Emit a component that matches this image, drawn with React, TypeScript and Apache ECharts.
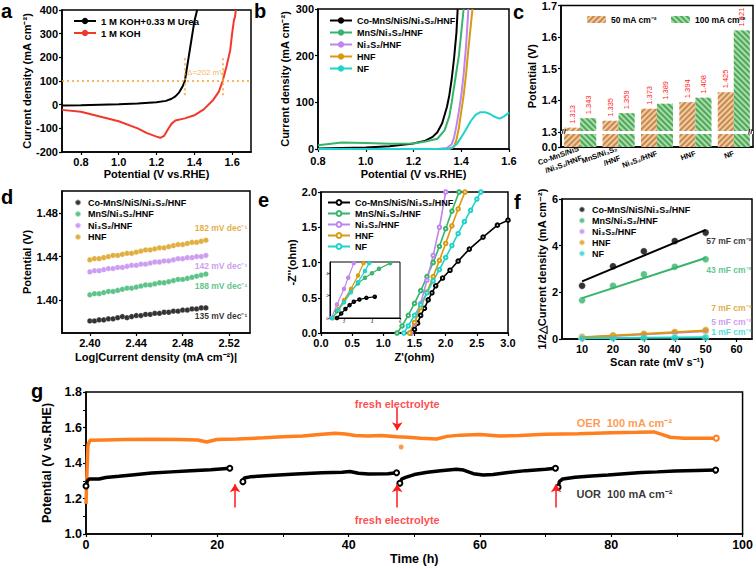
import React, { useEffect, useRef } from 'react';
import * as echarts from 'echarts';

const FONT = '"Liberation Sans", Arial, Helvetica, sans-serif';

// ---------- Panel a ----------
const aUrea = [[0.7,-3],[0.8,-2],[0.9,0],[1.0,2],[1.1,5],[1.2,10],[1.25,16],[1.28,25],[1.3,35],[1.32,52],[1.34,80],[1.35,100],[1.36,150],[1.37,200],[1.38,250],[1.39,300],[1.40,350],[1.415,400]];
const aKOH = [[0.7,-22],[0.8,-30],[0.9,-50],[1.0,-70],[1.1,-100],[1.15,-120],[1.2,-135],[1.22,-140],[1.24,-132],[1.26,-105],[1.28,-80],[1.3,-67],[1.35,-58],[1.4,-45],[1.45,-20],[1.5,20],[1.53,55],[1.55,100],[1.57,160],[1.59,230],[1.6,300],[1.61,358],[1.615,370],[1.62,400]];
const aNames = ['1 M KOH+0.33 M Urea', '1 M KOH'];

// ---------- Panel b ----------
const bNames = ['Co-MnS/NiS/Ni₃S₂/HNF', 'MnS/Ni₃S₂/HNF', 'Ni₃S₂/HNF', 'HNF', 'NF'];
const bCo = [[0.8,1],[0.9,2],[1.0,3],[1.1,6],[1.2,12],[1.25,18],[1.28,26],[1.3,36],[1.32,55],[1.34,90],[1.35,115],[1.36,150],[1.37,195],[1.38,250],[1.385,300]];
const bMn = [[0.8,8],[0.9,14],[1.0,13],[1.1,11],[1.2,12],[1.25,16],[1.3,22],[1.33,40],[1.35,70],[1.36,100],[1.375,150],[1.39,200],[1.40,250],[1.41,300]];
const bNi = [[0.8,0],[1.3,0],[1.34,2],[1.36,10],[1.37,25],[1.38,50],[1.39,80],[1.40,115],[1.41,160],[1.42,220],[1.43,300]];
const bHNF = [[0.8,0],[1.35,0],[1.37,5],[1.38,20],[1.39,45],[1.40,80],[1.41,115],[1.42,160],[1.43,215],[1.44,265],[1.447,300]];
const bNF = [[0.8,0],[1.34,0],[1.36,2],[1.38,10],[1.40,25],[1.42,42],[1.44,60],[1.46,73],[1.48,79],[1.50,79],[1.52,75],[1.54,69],[1.56,65],[1.58,70],[1.60,78]];

// ---------- Panel c ----------
const cCats = ['Co-MnS/NiS\n/Ni₃S₂/HNF', 'MnS/Ni₃S₂\n/HNF', 'Ni₃S₂/HNF', 'HNF', 'NF'];
const c50 = [1.313, 1.335, 1.373, 1.394, 1.425];
const c100 = [1.343, 1.359, 1.389, 1.408, 1.621];
const cNames = ['50 mA cm⁻²', '100 mA cm⁻²'];
const cTicks = [1.252, 1.3, 1.4, 1.5, 1.6, 1.7];

// ---------- Panel d ----------
const dNames = ['Co-MnS/NiS/Ni₃S₂/HNF', 'MnS/Ni₃S₂/HNF', 'Ni₃S₂/HNF', 'HNF'];
const dX = [2.400,2.404,2.408,2.412,2.416,2.420,2.424,2.428,2.432,2.436,2.440,2.444,2.448,2.452,2.456,2.460,2.464,2.468,2.472,2.476,2.480,2.484,2.488,2.492,2.496,2.500];
const dCo = [1.381,1.381,1.382,1.382,1.383,1.383,1.384,1.385,1.384,1.385,1.386,1.386,1.387,1.387,1.388,1.388,1.389,1.389,1.390,1.390,1.391,1.391,1.392,1.392,1.393,1.393];
const dMn = [1.405,1.406,1.406,1.407,1.408,1.408,1.409,1.410,1.411,1.411,1.412,1.413,1.414,1.414,1.415,1.416,1.416,1.417,1.418,1.419,1.419,1.420,1.421,1.422,1.423,1.424];
const dNi = [1.426,1.427,1.427,1.428,1.429,1.429,1.430,1.430,1.431,1.432,1.432,1.433,1.433,1.434,1.435,1.435,1.436,1.436,1.437,1.438,1.438,1.439,1.439,1.440,1.440,1.441];
const dHNF = [1.437,1.438,1.438,1.439,1.440,1.441,1.441,1.442,1.443,1.443,1.444,1.445,1.446,1.446,1.447,1.448,1.448,1.449,1.450,1.451,1.451,1.452,1.453,1.453,1.454,1.455];
const dSlopes = ['182 mV dec⁻¹', '142 mV dec⁻¹', '188 mV dec⁻¹', '135 mV dec⁻¹'];
const dSlopePos = [[2.513,1.4665],[2.513,1.4317],[2.513,1.413],[2.513,1.386]];

// ---------- Panel e ----------
const eNames = ['Co-MnS/NiS/Ni₃S₂/HNF', 'MnS/Ni₃S₂/HNF', 'Ni₃S₂/HNF', 'HNF', 'NF'];
const eCo = [[1.44,0],[1.5,0.05],[1.55,0.14],[1.6,0.25],[1.66,0.35],[1.72,0.47],[1.78,0.57],[1.84,0.67],[1.95,0.78],[2.07,0.89],[2.2,1.02],[2.38,1.19],[2.6,1.36],[2.83,1.53],[3.0,1.6]];
const eMn = [[1.22,0],[1.3,0.1],[1.4,0.25],[1.5,0.42],[1.6,0.6],[1.7,0.8],[1.8,1.0],[1.9,1.23],[2.0,1.48],[2.1,1.73],[2.215,2.0]];
const eNi = [[1.44,0],[1.5,0.13],[1.6,0.42],[1.7,0.75],[1.8,1.1],[1.9,1.5],[2.0,2.0]];
const eHNF = [[1.42,0],[1.5,0.15],[1.6,0.36],[1.7,0.58],[1.8,0.8],[1.9,1.03],[2.0,1.27],[2.1,1.52],[2.2,1.76],[2.31,2.0]];
const eNF = [[1.33,0],[1.4,0.1],[1.5,0.25],[1.6,0.4],[1.7,0.57],[1.8,0.74],[1.9,0.9],[2.0,1.07],[2.1,1.24],[2.2,1.41],[2.3,1.58],[2.4,1.74],[2.5,1.9],[2.565,2.0]];
// inset
const iCo = [[1.5,0],[1.8,0.4],[2.1,0.8],[2.4,1.15],[2.7,1.45],[3.1,1.65],[3.6,1.8],[4.2,1.9]];
const iMn = [[1.2,0],[1.5,0.6],[2.0,1.5],[2.5,2.4],[3.0,3.1],[3.5,3.6],[4.0,4.0],[4.5,4.4],[5.3,4.9]];
const iNi = [[1.1,0],[1.5,1.2],[2.0,2.6],[2.3,3.6],[2.7,4.9]];
const iHNF = [[1.2,0],[1.6,0.8],[2.0,1.6],[2.5,2.6],[3.0,3.8],[3.4,4.9]];
const iNF = [[1.15,0],[1.6,0.7],[2.0,1.4],[2.5,2.3],[3.0,3.2],[3.5,4.2],[3.8,4.9]];

// ---------- Panel f ----------
const fNames = ['Co-MnS/NiS/Ni₃S₂/HNF', 'MnS/Ni₃S₂/HNF', 'Ni₃S₂/HNF', 'HNF', 'NF'];
const fScan = [10, 20, 30, 40, 50];
const fCo = [2.28, 3.12, 3.76, 4.2, 4.56];
const fMn = [1.66, 2.28, 2.77, 3.1, 3.42];
const fNi = [0.07, 0.12, 0.18, 0.27, 0.33];
const fHNF = [0.09, 0.16, 0.22, 0.3, 0.38];
const fNF = [0.03, 0.04, 0.05, 0.06, 0.07];
const fFitX = [10, 50];
const fFitCo = [2.47, 4.68];
const fFitMn = [1.75, 3.47];
const fFitNi = [0.06, 0.33];
const fFitHNF = [0.08, 0.36];
const fFitNF = [0.03, 0.07];
const fCaps = ['57 mF cm⁻²', '43 mF cm⁻²', '7 mF cm⁻²', '5 mF cm⁻²', '1 mF cm⁻²'];
const fCapPos = [[57.5,4.21],[57.5,2.97],[58.3,1.31],[58.3,0.74],[58.3,0.29]];

// ---------- Panel g ----------
const gOER = [[0,1.17],[0.15,1.35],[0.3,1.5],[0.6,1.528],[3,1.53],[6,1.532],[10,1.534],[14,1.533],[17,1.53],[18.4,1.518],[19.9,1.532],[23,1.535],[27,1.542],[30,1.548],[33,1.552],[36,1.562],[38,1.568],[39.5,1.563],[41,1.555],[43,1.552],[45,1.555],[47.4,1.548],[49,1.545],[51,1.54],[53.4,1.535],[55,1.55],[57,1.557],[60,1.56],[63,1.552],[66,1.555],[70,1.562],[75,1.565],[80,1.57],[84,1.573],[86.5,1.575],[87.8,1.56],[89,1.545],[91,1.54],[94,1.54],[96,1.54]];
const gOERDot = [[48.0,1.49]];
const gUOR1 = [[0,1.27],[0.2,1.3],[0.5,1.31],[2,1.31],[3,1.318],[5,1.325],[7,1.333],[10,1.343],[13,1.35],[16,1.356],[19,1.362],[21.9,1.37]];
const gUOR2 = [[23.9,1.295],[24.1,1.315],[25,1.322],[28,1.33],[32,1.338],[36,1.345],[39,1.348],[40.2,1.352],[41.5,1.342],[43,1.338],[46,1.34],[47.3,1.345]];
const gUOR3 = [[47.8,1.286],[48.1,1.31],[48.8,1.32],[50,1.335],[52,1.348],[54,1.356],[56.4,1.365],[57.5,1.36],[59,1.34],[60.5,1.332],[62,1.335],[64,1.345],[67,1.357],[70,1.365],[71.5,1.37]];
const gUOR4 = [[71.9,1.263],[72.1,1.295],[72.6,1.31],[74.5,1.32],[77,1.327],[79.5,1.332],[82,1.34],[84.6,1.346],[87,1.35],[89.7,1.355],[93,1.358],[95.9,1.36]];
const gArrowsUp = [[22.7,1.15,1.28],[47.4,1.15,1.28],[71.6,1.15,1.28]];
const gArrowsDown = [[47.4,1.71,1.585]];
const gTexts = [
  { t: 'fresh electrolyte', p: [47.4, 1.735], c: '#ff1a1a' },
  { t: 'fresh electrolyte', p: [47.4, 1.079], c: '#ff1a1a' },
  { t: 'OER  100 mA cm⁻²', p: [82, 1.627], c: '#ff7f1e' },
  { t: 'UOR  100 mA cm⁻²', p: [82, 1.225], c: '#000' },
];

const COL = { black: '#000000', green: '#35b46c', purple: '#bf84ee', orange: '#d99a10', teal: '#1fd3c9', red: '#f2382a', orangeDot: '#f5a02a', gOrange: '#ff7f1e' };

function merge(a: any, b: any): any {
  const out: any = { ...a };
  for (const k of Object.keys(b || {})) {
    if (b[k] && typeof b[k] === 'object' && !Array.isArray(b[k]) && a[k] && typeof a[k] === 'object') out[k] = merge(a[k], b[k]);
    else out[k] = b[k];
  }
  return out;
}

function axis(extra: any, fs = 11): any {
  return merge({
    type: 'value',
    nameLocation: 'middle',
    axisLine: { show: true, onZero: false, lineStyle: { color: '#000', width: 1.5 } },
    axisTick: { show: true, inside: false, length: 3, lineStyle: { color: '#000', width: 1.2 } },
    axisLabel: { color: '#000', fontWeight: 'bold', fontSize: fs, fontFamily: FONT, margin: 4 },
    splitLine: { show: false },
    nameTextStyle: { color: '#000', fontWeight: 'bold', fontSize: fs, fontFamily: FONT },
  }, extra);
}

const fix = (n: number) => (v: number) => Number(v).toFixed(n);

export default function App() {
  const ref = useRef<HTMLDivElement>(null);
  useEffect(() => {
    if (!ref.current) return;
    const chart = echarts.init(ref.current, undefined, { renderer: 'svg' });
    const colors5 = [COL.black, COL.green, COL.purple, COL.orange, COL.teal];
    const pre = (p: string, names: string[]) => names.map((n) => p + '|' + n);
    const legendText = { color: '#000', fontWeight: 'bold', fontSize: 9, fontFamily: FONT };
    const fmt = (n: string) => n.split('|')[1];

    const series: any[] = [];
    // a
    series.push({ type: 'line', name: 'a|' + aNames[0], xAxisIndex: 0, yAxisIndex: 0, data: aUrea, symbol: 'none', lineStyle: { color: COL.black, width: 2 }, itemStyle: { color: COL.black } });
    series.push({ type: 'line', name: 'a|' + aNames[1], xAxisIndex: 0, yAxisIndex: 0, data: aKOH, symbol: 'none', lineStyle: { color: COL.red, width: 2 }, itemStyle: { color: COL.red },
      markLine: { silent: true, symbol: 'none', label: { show: false }, lineStyle: { color: COL.orangeDot, type: [2, 3], width: 1.5 },
        data: [ { yAxis: 100 }, [ { coord: [1.35, 40] }, { coord: [1.35, 205] } ], [ { coord: [1.552, 40] }, { coord: [1.552, 205] } ] ] } });
    series.push({ type: 'scatter', xAxisIndex: 0, yAxisIndex: 0, symbolSize: 0, data: [{ name: 'Δ=202 mV', value: [1.461, 135] }],
      label: { show: true, position: 'inside', formatter: '{b}', color: COL.orangeDot, fontSize: 8, fontFamily: FONT } });

    // b
    [bCo, bMn, bNi, bHNF, bNF].forEach((d, i) => series.push({ type: 'line', name: 'b|' + bNames[i], xAxisIndex: 1, yAxisIndex: 1, data: d, symbol: 'none', lineStyle: { color: colors5[i], width: 2 }, itemStyle: { color: colors5[i] } }));

    // c
    const valLabel = { show: true, position: 'top', rotate: 90, align: 'left', verticalAlign: 'middle', distance: 4, color: '#ff2020', fontSize: 7.5, fontFamily: FONT, formatter: (p: any) => Number(p.value).toFixed(3) };
    series.push({ type: 'bar', name: 'c|' + cNames[0], xAxisIndex: 2, yAxisIndex: 2, data: c50, barWidth: 16, barGap: '0%',
      itemStyle: { color: '#f1cba2', decal: { symbol: 'rect', symbolSize: 1, color: '#c8894f', dashArrayX: [1, 0], dashArrayY: [2, 2], rotation: -Math.PI / 4 } }, label: valLabel });
    series.push({ type: 'bar', name: 'c|' + cNames[1], xAxisIndex: 2, yAxisIndex: 2, data: c100, barWidth: 16, barGap: '0%',
      itemStyle: { color: '#a9dca8', decal: { symbol: 'rect', symbolSize: 1, color: '#4ea85a', dashArrayX: [1, 0], dashArrayY: [2, 2], rotation: Math.PI / 4 } }, label: valLabel,
      markLine: { silent: true, symbol: 'none', lineStyle: { color: '#fff', width: 3, type: 'solid' },
        data: [ { yAxis: 1.296, label: { show: true, position: 'start', formatter: '//', distance: -5, color: '#000', fontSize: 8, fontWeight: 'bold' } },
                { yAxis: 1.296, label: { show: true, position: 'end', formatter: '//', distance: -5, color: '#000', fontSize: 8, fontWeight: 'bold' } } ] } });

    // d
    [dCo, dMn, dNi, dHNF].forEach((d, i) => series.push({ type: 'scatter', name: 'd|' + dNames[i], xAxisIndex: 3, yAxisIndex: 3, data: d.map((y, k) => [dX[k], y]), symbolSize: 5.5,
      itemStyle: { color: colors5[i], borderColor: 'rgba(255,255,255,0.6)', borderWidth: 0.6 } }));
    const dLabCols = [COL.orange, COL.purple, COL.green, COL.black];
    series.push({ type: 'scatter', xAxisIndex: 3, yAxisIndex: 3, symbolSize: 0, data: dSlopes.map((t, i) => ({ name: t, value: dSlopePos[i], label: { color: dLabCols[i] } })),
      label: { show: true, position: 'inside', formatter: '{b}', fontSize: 8.5, fontWeight: 'bold', fontFamily: FONT } });

    // e
    [eCo, eMn, eNi, eHNF, eNF].forEach((d, i) => series.push({ type: 'line', name: 'e|' + eNames[i], xAxisIndex: 4, yAxisIndex: 4, data: d, symbol: 'emptyCircle', symbolSize: 3.5,
      lineStyle: { color: colors5[i], width: 1.6 }, itemStyle: { color: colors5[i], borderWidth: 0.8 } }));
    [iCo, iMn, iNi, iHNF, iNF].forEach((d, i) => series.push({ type: 'line', xAxisIndex: 7, yAxisIndex: 7, data: d, symbol: 'emptyCircle', symbolSize: 2.5,
      lineStyle: { color: colors5[i], width: 1.2 }, itemStyle: { color: colors5[i], borderWidth: 0.6 } }));

    // f
    const fPts = [fCo, fMn, fNi, fHNF, fNF];
    const fFits = [fFitCo, fFitMn, fFitNi, fFitHNF, fFitNF];
    fFits.forEach((d, i) => series.push({ type: 'line', xAxisIndex: 5, yAxisIndex: 5, data: d.map((y, k) => [fFitX[k], y]), symbol: 'none', lineStyle: { color: colors5[i], width: 2 } }));
    fPts.forEach((d, i) => series.push({ type: 'scatter', name: 'f|' + fNames[i], xAxisIndex: 5, yAxisIndex: 5, data: d.map((y, k) => [fScan[k], y]), symbolSize: 7,
      itemStyle: { color: colors5[i], borderColor: 'rgba(255,255,255,0.7)', borderWidth: 0.8 } }));
    const fLabCols = [COL.black, COL.green, COL.orange, COL.purple, COL.teal];
    series.push({ type: 'scatter', xAxisIndex: 5, yAxisIndex: 5, symbolSize: 0, data: fCaps.map((t, i) => ({ name: t, value: fCapPos[i], label: { color: fLabCols[i] } })),
      label: { show: true, position: 'inside', formatter: '{b}', fontSize: 8.5, fontWeight: 'bold', fontFamily: FONT } });

    // g
    const endPt = (p: number[]) => ({ value: p, symbol: 'emptyCircle', symbolSize: 5 });
    const seg = (d: number[][]) => d.map((p, k) => (k === 0 || k === d.length - 1 ? endPt(p) : p));
    series.push({ type: 'line', xAxisIndex: 6, yAxisIndex: 6, data: gOER.map((p, k) => (k === gOER.length - 1 ? endPt(p) : p)), symbol: 'none', showSymbol: true,
      lineStyle: { color: COL.gOrange, width: 3.5 }, itemStyle: { color: COL.gOrange, borderWidth: 1 },
      markLine: { silent: true, symbol: ['none', 'arrow'], symbolSize: 8, label: { show: false }, lineStyle: { color: '#ff1a1a', width: 1.5, type: 'solid' },
        data: [...gArrowsUp, ...gArrowsDown].map(([x, y0, y1]) => [{ coord: [x, y0] }, { coord: [x, y1] }]) } });
    series.push({ type: 'scatter', xAxisIndex: 6, yAxisIndex: 6, data: gOERDot, symbol: 'circle', symbolSize: 5, itemStyle: { color: COL.gOrange } });
    [gUOR1, gUOR2, gUOR3, gUOR4].forEach((d) => series.push({ type: 'line', xAxisIndex: 6, yAxisIndex: 6, data: seg(d), symbol: 'none', showSymbol: true,
      lineStyle: { color: '#000', width: 3.5 }, itemStyle: { color: '#000', borderWidth: 1 } }));
    series.push({ type: 'scatter', xAxisIndex: 6, yAxisIndex: 6, symbolSize: 0, data: gTexts.map((g) => ({ name: g.t, value: g.p, label: { color: g.c } })),
      label: { show: true, position: 'inside', formatter: '{b}', fontSize: 11, fontWeight: 'bold', fontFamily: FONT } });

    const gridBase = { show: true, borderColor: '#000', borderWidth: 1.5, backgroundColor: 'transparent', containLabel: false };
    const letter = (t: string, x: number, y: number) => ({ type: 'text', left: x, top: y, style: { text: t, fontSize: 20, fontWeight: 'bold', fontFamily: FONT, fill: '#000' } });

    const option: any = {
      animation: false,
      textStyle: { fontFamily: FONT },
      grid: [
        { ...gridBase, left: 62, top: 10, width: 189, height: 142 },
        { ...gridBase, left: 318, top: 9, width: 191, height: 140 },
        { ...gridBase, left: 561, top: 5, width: 192, height: 142 },
        { ...gridBase, left: 62, top: 191, width: 188, height: 142 },
        { ...gridBase, left: 321, top: 192, width: 187, height: 141 },
        { ...gridBase, left: 562, top: 199, width: 190, height: 140 },
        { ...gridBase, left: 86, top: 392, width: 657, height: 142 },
        { ...gridBase, left: 330, top: 262, width: 70, height: 56, borderWidth: 1, backgroundColor: '#fff' },
      ],
      xAxis: [
        axis({ gridIndex: 0, min: 0.7, max: 1.7, name: 'Potential (V vs.RHE)', nameGap: 16, axisLabel: { customValues: [0.8, 1.0, 1.2, 1.4, 1.6], formatter: fix(1) }, axisTick: { customValues: [0.8, 1.0, 1.2, 1.4, 1.6] } }),
        axis({ gridIndex: 1, min: 0.8, max: 1.6, interval: 0.2, name: 'Potential (V vs.RHE)', nameGap: 19, axisLabel: { formatter: fix(1), margin: 6 } }),
        axis({ gridIndex: 2, type: 'category', data: cCats, axisTick: { show: false }, axisLabel: { fontSize: 7.5, rotate: 20, margin: 6, interval: 0, lineHeight: 10 } }),
        axis({ gridIndex: 3, min: 2.376, max: 2.538, name: 'Log|Current density (mA cm⁻²)|', nameGap: 18, axisLabel: { customValues: [2.40, 2.44, 2.48, 2.52], formatter: fix(2) }, axisTick: { customValues: [2.40, 2.44, 2.48, 2.52] } }),
        axis({ gridIndex: 4, min: 0, max: 3, interval: 0.5, name: "Z'(ohm)", nameGap: 18, axisLabel: { formatter: fix(1) } }),
        axis({ gridIndex: 5, min: 3.5, max: 65, name: 'Scan rate (mV s⁻¹)', nameGap: 17, axisLabel: { customValues: [10, 20, 30, 40, 50, 60] }, axisTick: { customValues: [10, 20, 30, 40, 50, 60] } }),
        axis({ gridIndex: 6, min: 0, max: 100, interval: 20, name: 'Time (h)', nameGap: 18, minorTick: { show: true, splitNumber: 2, length: 3, lineStyle: { color: '#000' } } }, 12.5),
        axis({ gridIndex: 7, min: 1, max: 6, axisLine: { lineStyle: { width: 1 } }, axisTick: { length: 1.5, customValues: [2, 4, 6] }, axisLabel: { fontSize: 4, margin: 1.5, fontWeight: 'normal', customValues: [2, 4, 6] } }),
      ],
      yAxis: [
        axis({ gridIndex: 0, min: -200, max: 400, interval: 100, name: 'Current density (mA cm⁻²)', nameGap: 27 }),
        axis({ gridIndex: 1, min: 0, max: 300, interval: 100, name: 'Current density (mA cm⁻²)', nameGap: 28 }),
        axis({ gridIndex: 2, min: 1.252, max: 1.7, name: 'Potential (V)', nameGap: 21, axisLabel: { customValues: cTicks, formatter: (v: number) => (v < 1.28 ? '0.0' : Number(v).toFixed(1)) }, axisTick: { customValues: cTicks } }),
        axis({ gridIndex: 3, min: 1.37, max: 1.50, name: 'Potential (V)', nameGap: 29, axisLabel: { customValues: [1.40, 1.44, 1.48], formatter: fix(2) }, axisTick: { customValues: [1.40, 1.44, 1.48] } }),
        axis({ gridIndex: 4, min: 0, max: 2, interval: 0.5, name: "-Z''(ohm)", nameGap: 23, axisLabel: { formatter: fix(1) } }),
        axis({ gridIndex: 5, min: 0, max: 6, interval: 2, name: '1/2△Current density (mA cm⁻²)', nameGap: 12 }),
        axis({ gridIndex: 6, min: 1.0, max: 1.8, interval: 0.2, name: 'Potential (V vs.RHE)', nameGap: 25, axisLabel: { formatter: fix(1) }, minorTick: { show: true, splitNumber: 2, length: 3, lineStyle: { color: '#000' } } }, 12.5),
        axis({ gridIndex: 7, min: 0, max: 5, axisLine: { lineStyle: { width: 1 } }, axisTick: { length: 1.5, customValues: [0, 2, 4] }, axisLabel: { fontSize: 4, margin: 1.5, fontWeight: 'normal', customValues: [0, 2, 4] } }),
      ],
      legend: [
        { data: pre('a', aNames), left: 68, top: 11, orient: 'vertical', itemWidth: 22, itemHeight: 8, itemGap: 2, textStyle: { ...legendText, fontSize: 9.5 }, formatter: fmt, selectedMode: false },
        { data: pre('b', bNames), left: 324, top: 11, orient: 'vertical', itemWidth: 22, itemHeight: 8, itemGap: 3, textStyle: legendText, formatter: fmt, selectedMode: false },
        { data: pre('c', cNames), left: 582, top: 10, orient: 'horizontal', itemWidth: 19, itemHeight: 7, itemGap: 14, textStyle: { ...legendText, fontSize: 8.5 }, formatter: fmt, selectedMode: false },
        { data: pre('d', dNames), left: 69, top: 193, orient: 'vertical', itemWidth: 10, itemHeight: 6, itemGap: 2.5, textStyle: legendText, formatter: fmt, selectedMode: false },
        { data: pre('e', eNames), left: 322, top: 193, orient: 'vertical', itemWidth: 22, itemHeight: 6, itemGap: 2, textStyle: legendText, formatter: fmt, selectedMode: false },
        { data: pre('f', fNames), left: 573, top: 200, orient: 'vertical', itemWidth: 10, itemHeight: 6, itemGap: 2, textStyle: legendText, formatter: fmt, selectedMode: false },
      ],
      graphic: [letter('a', 1, 1), letter('b', 254, 1), letter('c', 513, 2), letter('d', 1, 187), letter('e', 258, 190), letter('f', 514, 192), letter('g', 31, 381)],
      series,
    };
    chart.setOption(option);
    return () => chart.dispose();
  }, []);
  return <div ref={ref} style={{ width: 756, height: 569, position: 'absolute', left: 0, top: 0, background: '#fff' }} />;
}
